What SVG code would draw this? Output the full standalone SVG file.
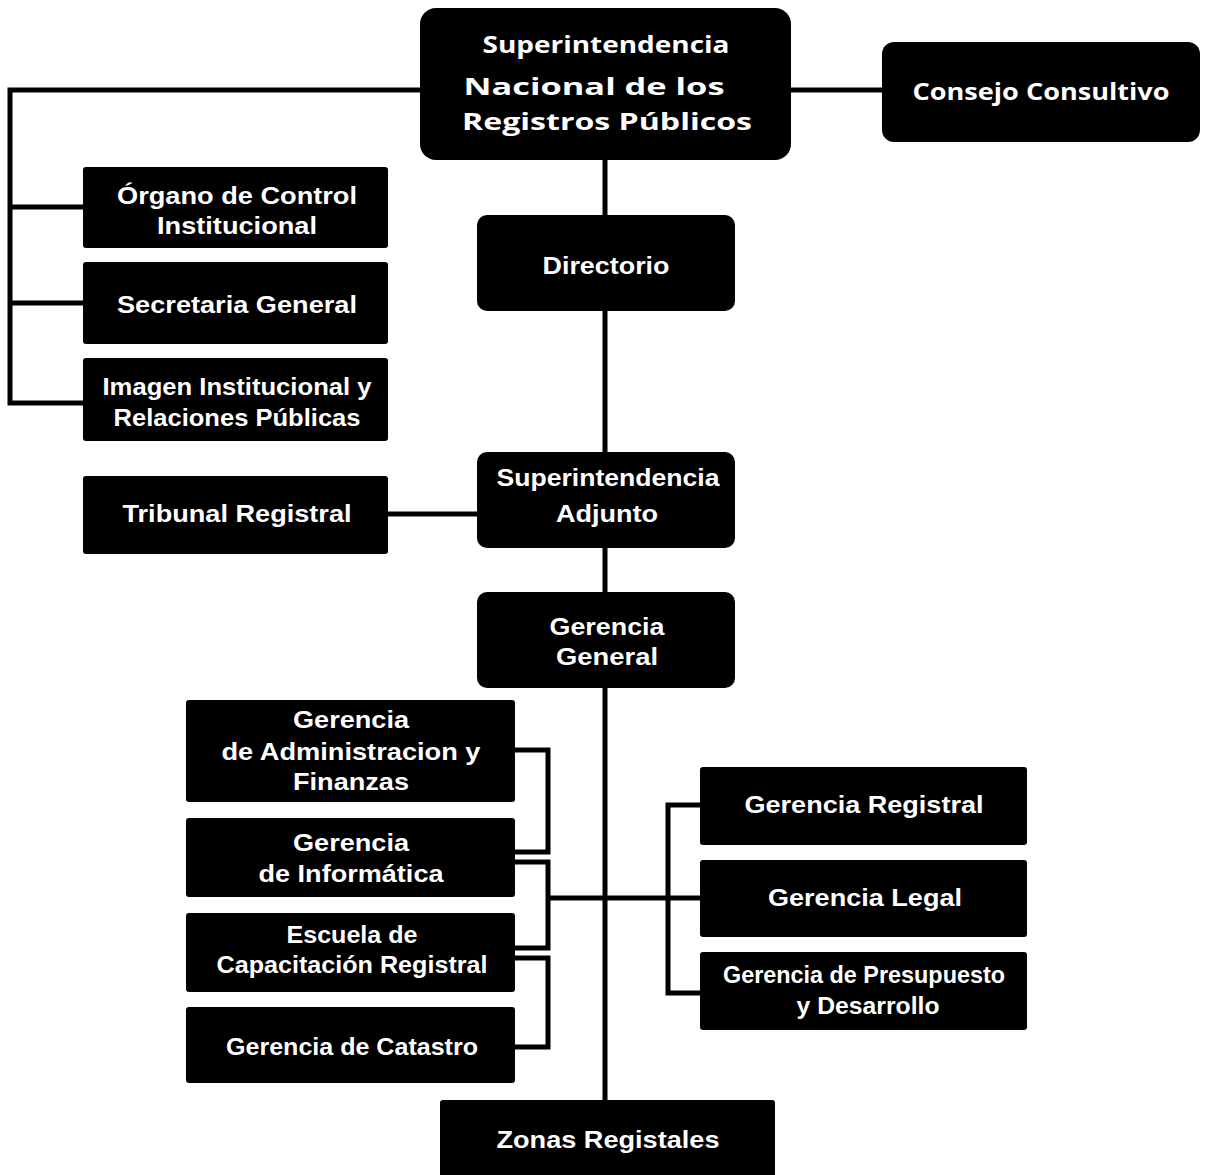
<svg xmlns="http://www.w3.org/2000/svg" width="1205" height="1175" viewBox="0 0 1205 1175">
<style>
.box{fill:#000}
.t{fill:#fff;font-family:"Liberation Sans",Arial,sans-serif;font-weight:bold;font-size:24px;text-anchor:middle}
.w{font-family:"Open Sans","Liberation Sans",sans-serif}
.ln{stroke:#000;stroke-width:5;fill:none}
</style>
<rect width="1205" height="1175" fill="#fff"/>
<g id="connectors">
<path class="ln" d="M420,90 H10 V403 H83 M10,207 H83 M10,303 H83"/>
<path class="ln" d="M791,90 H882"/>
<path class="ln" d="M605,160 V1100" stroke-width="6"/>
<path class="ln" d="M388,514 H477"/>
<path class="ln" d="M515,750 H548 V852 H515 M515,862 H548 V948 H515 M515,958 H548 V1047 H515"/>
<path class="ln" d="M548,898 H700"/>
<path class="ln" d="M700,805 H668 V993 H700"/>
</g>
<g id="n-superintendencia-nacional">
<rect class="box" x="420" y="8" width="371" height="152" rx="16"/>
<text class="t w" x="606" y="53" textLength="247" lengthAdjust="spacingAndGlyphs">Superintendencia</text>
<text class="t w" x="594" y="95" font-size="30" textLength="261" lengthAdjust="spacingAndGlyphs">Nacional de los</text>
<text class="t w" x="607" y="130" font-size="30" textLength="290" lengthAdjust="spacingAndGlyphs">Registros Públicos</text>
</g>
<g id="n-consejo">
<rect class="box" x="882" y="42" width="318" height="100" rx="12"/>
<text class="t w" x="1041" y="100" textLength="257" lengthAdjust="spacingAndGlyphs">Consejo Consultivo</text>
</g>
<g id="n-organo">
<rect class="box" x="83" y="167" width="305" height="81" rx="3"/>
<text class="t" x="237" y="204" textLength="240" lengthAdjust="spacingAndGlyphs">Órgano de Control</text>
<text class="t" x="237" y="234" textLength="160" lengthAdjust="spacingAndGlyphs">Institucional</text>
</g>
<g id="n-secretaria">
<rect class="box" x="83" y="262" width="305" height="82" rx="3"/>
<text class="t" x="237" y="313" textLength="240" lengthAdjust="spacingAndGlyphs">Secretaria General</text>
</g>
<g id="n-imagen">
<rect class="box" x="83" y="358" width="305" height="83" rx="3"/>
<text class="t" x="237" y="395" textLength="269" lengthAdjust="spacingAndGlyphs">Imagen Institucional y</text>
<text class="t" x="237" y="426" textLength="247" lengthAdjust="spacingAndGlyphs">Relaciones Públicas</text>
</g>
<g id="n-directorio">
<rect class="box" x="477" y="215" width="258" height="96" rx="10"/>
<text class="t" x="606" y="274" textLength="127" lengthAdjust="spacingAndGlyphs">Directorio</text>
</g>
<g id="n-adjunto">
<rect class="box" x="477" y="452" width="258" height="96" rx="10"/>
<text class="t" x="608" y="486" textLength="223" lengthAdjust="spacingAndGlyphs">Superintendencia</text>
<text class="t" x="607" y="522" textLength="102" lengthAdjust="spacingAndGlyphs">Adjunto</text>
</g>
<g id="n-tribunal">
<rect class="box" x="83" y="476" width="305" height="78" rx="3"/>
<text class="t" x="237" y="522" textLength="229" lengthAdjust="spacingAndGlyphs">Tribunal Registral</text>
</g>
<g id="n-gerencia-general">
<rect class="box" x="477" y="592" width="258" height="96" rx="10"/>
<text class="t" x="607" y="635" textLength="115" lengthAdjust="spacingAndGlyphs">Gerencia</text>
<text class="t" x="607" y="665" textLength="102" lengthAdjust="spacingAndGlyphs">General</text>
</g>
<g id="n-administracion">
<rect class="box" x="186" y="700" width="329" height="102" rx="3"/>
<text class="t" x="351" y="728" textLength="116" lengthAdjust="spacingAndGlyphs">Gerencia</text>
<text class="t" x="351" y="760" textLength="259" lengthAdjust="spacingAndGlyphs">de Administracion y</text>
<text class="t" x="351" y="790" textLength="116" lengthAdjust="spacingAndGlyphs">Finanzas</text>
</g>
<g id="n-informatica">
<rect class="box" x="186" y="818" width="329" height="79" rx="3"/>
<text class="t" x="351" y="851" textLength="116" lengthAdjust="spacingAndGlyphs">Gerencia</text>
<text class="t" x="351" y="882" textLength="185" lengthAdjust="spacingAndGlyphs">de Informática</text>
</g>
<g id="n-escuela">
<rect class="box" x="186" y="913" width="329" height="79" rx="3"/>
<text class="t" x="352" y="943" textLength="131" lengthAdjust="spacingAndGlyphs">Escuela de</text>
<text class="t" x="352" y="973" textLength="271" lengthAdjust="spacingAndGlyphs">Capacitación Registral</text>
</g>
<g id="n-catastro">
<rect class="box" x="186" y="1007" width="329" height="76" rx="3"/>
<text class="t" x="352" y="1055" textLength="252" lengthAdjust="spacingAndGlyphs">Gerencia de Catastro</text>
</g>
<g id="n-registral">
<rect class="box" x="700" y="767" width="327" height="78" rx="3"/>
<text class="t" x="864" y="813" textLength="239" lengthAdjust="spacingAndGlyphs">Gerencia Registral</text>
</g>
<g id="n-legal">
<rect class="box" x="700" y="860" width="327" height="77" rx="3"/>
<text class="t" x="865" y="906" textLength="194" lengthAdjust="spacingAndGlyphs">Gerencia Legal</text>
</g>
<g id="n-presupuesto">
<rect class="box" x="700" y="952" width="327" height="78" rx="3"/>
<text class="t" x="864" y="983" textLength="282" lengthAdjust="spacingAndGlyphs">Gerencia de Presupuesto</text>
<text class="t" x="868" y="1014" textLength="143" lengthAdjust="spacingAndGlyphs">y Desarrollo</text>
</g>
<g id="n-zonas">
<rect class="box" x="440" y="1100" width="335" height="80" rx="3"/>
<text class="t" x="608" y="1148" textLength="223" lengthAdjust="spacingAndGlyphs">Zonas Registales</text>
</g>
</svg>
